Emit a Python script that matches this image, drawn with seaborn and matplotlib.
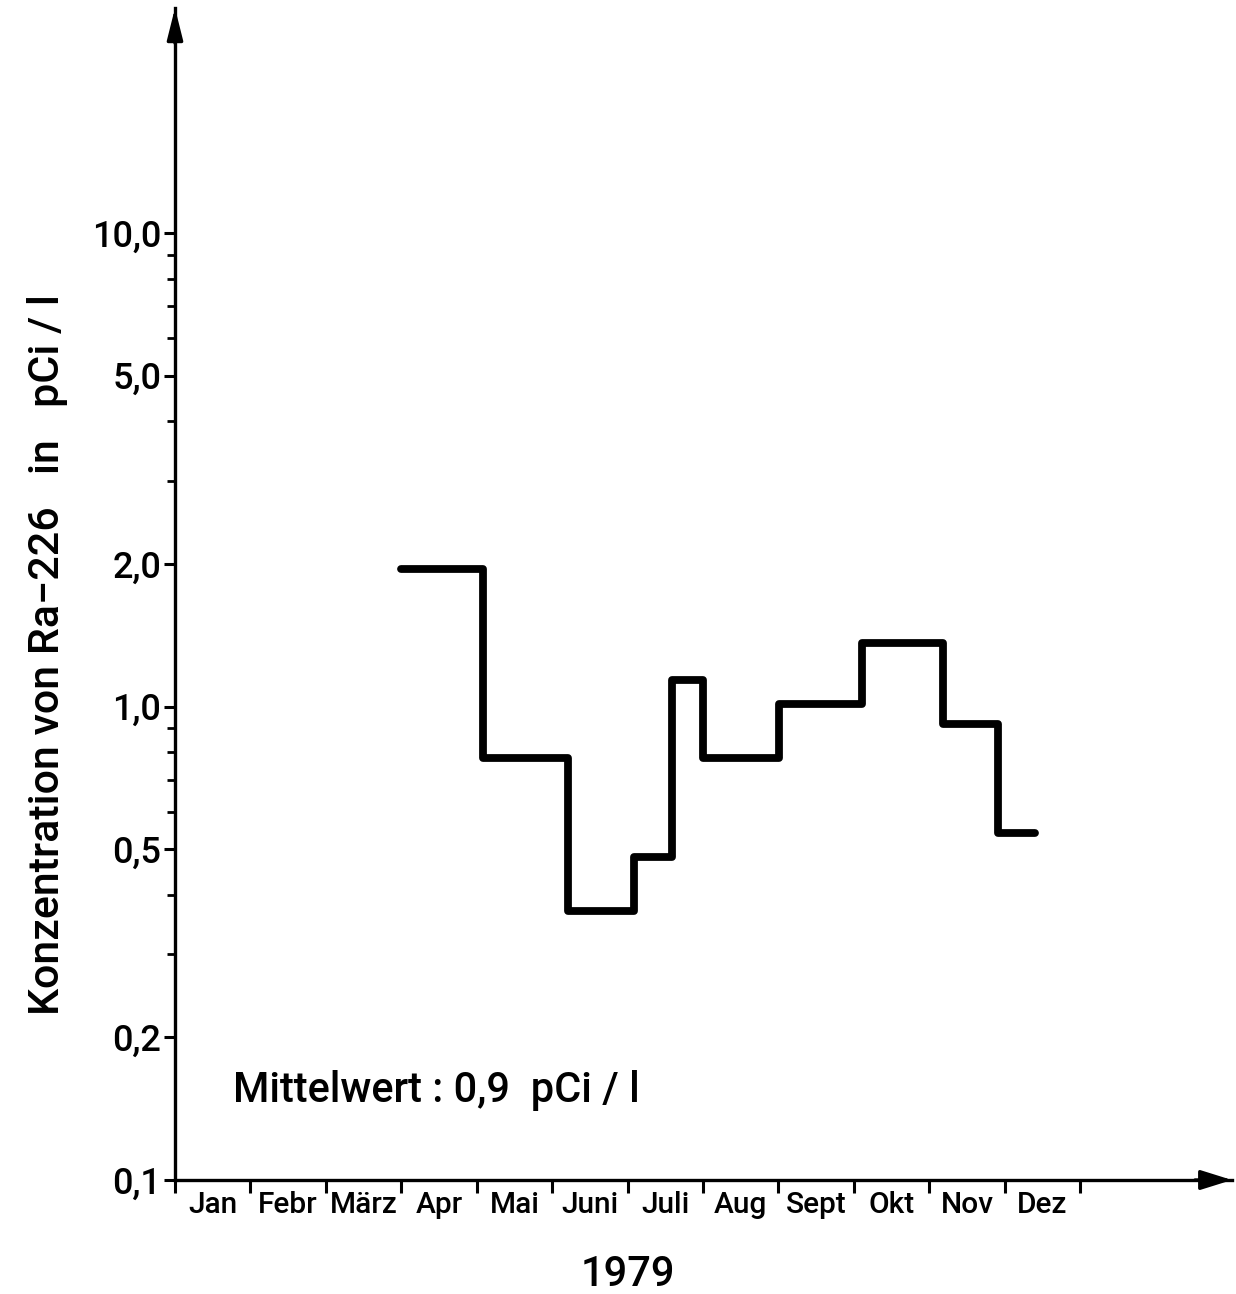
import matplotlib
matplotlib.use("Agg")
import matplotlib.pyplot as plt
import matplotlib.ticker as mticker
import seaborn as sns
import pandas as pd

# ---- data ----
months = ["Jan", "Febr", "März", "Apr", "Mai", "Juni", "Juli", "Aug", "Sept", "Okt", "Nov", "Dez"]
# step start positions in month units (0 = start of January)
step_start = [3.0, 4.08, 5.21, 6.09, 6.59, 7.0, 8.01, 9.11, 10.18, 10.91]
step_end = 11.40
# concentration of Ra-226 in pCi/l for each step
conc = [1.95, 0.78, 0.37, 0.48, 1.14, 0.78, 1.01, 1.36, 0.92, 0.54]
ytick_vals = [0.1, 0.2, 0.5, 1.0, 2.0, 5.0, 10.0]
ytick_labels = ["0,1", "0,2", "0,5", "1,0", "2,0", "5,0", "10,0"]
yminor_vals = [0.3, 0.4, 0.6, 0.7, 0.8, 0.9, 3.0, 4.0, 6.0, 7.0, 8.0, 9.0]

df = pd.DataFrame({"x": step_start + [step_end], "y": conc + [conc[-1]]})

sns.set_theme(style="white")
plt.rcParams["font.family"] = ["Roboto", "DejaVu Sans"]
plt.rcParams["text.color"] = "black"
plt.rcParams["xtick.color"] = "black"
plt.rcParams["ytick.color"] = "black"

W, H = 1236, 1294
fig = plt.figure(figsize=(W / 100, H / 100), dpi=100)
x0, x1 = 175, 1232
ytop, ybot = 8, 1180
ax = fig.add_axes([x0 / W, 1 - ybot / H, (x1 - x0) / W, (ybot - ytop) / H])

sns.lineplot(data=df, x="x", y="y", drawstyle="steps-post", color="black",
             linewidth=5.6, ax=ax, solid_joinstyle="round", solid_capstyle="round")

month_px = 75.42
ax.set_xlim(0, (x1 - x0) / month_px)
ax.set_yscale("log")
decade_px = 473.5
ax.set_ylim(0.1, 0.1 * 10 ** ((ybot - ytop) / decade_px))

ax.set_yticks(ytick_vals)
ax.set_yticklabels(ytick_labels)
ax.yaxis.set_minor_locator(mticker.FixedLocator(yminor_vals))
ax.yaxis.set_minor_formatter(mticker.NullFormatter())

ax.set_xticks(range(0, 13))
ax.set_xticklabels([""] * 13)
ax.set_xticks([i + 0.5 for i in range(12)], minor=True)
ax.set_xticklabels(months, minor=True)

ax.tick_params(axis="y", which="major", direction="out", length=8, width=2.2,
               color="black", labelcolor="black", labelsize=26, pad=2, left=True)
ax.tick_params(axis="y", which="minor", direction="out", length=6, width=2.0,
               color="black", left=True)
ax.tick_params(axis="x", which="major", direction="out", length=9, width=2.2,
               color="black", bottom=True)
ax.tick_params(axis="x", which="minor", length=0, labelsize=21.5, pad=8,
               labelcolor="black", bottom=False)
for lab in ax.get_xticklabels(minor=True):
    lab.set_fontweight("medium")
for lab in ax.get_yticklabels():
    lab.set_fontweight("medium")

for s in ["top", "right"]:
    ax.spines[s].set_visible(False)
for s in ["left", "bottom"]:
    ax.spines[s].set_linewidth(2.4)
    ax.spines[s].set_color("black")
ax.set_xlabel("")
ax.set_ylabel("")
ax.grid(False)

# arrow heads
ax.annotate("", xy=(1, 0), xytext=(0.965, 0), xycoords="axes fraction",
            arrowprops=dict(arrowstyle="-|>,head_length=1.6,head_width=0.5",
                            color="black", lw=2.4, shrinkA=0, shrinkB=0),
            annotation_clip=False)
ax.annotate("", xy=(0, 1), xytext=(0, 0.97), xycoords="axes fraction",
            arrowprops=dict(arrowstyle="-|>,head_length=1.6,head_width=0.4",
                            color="black", lw=2.4, shrinkA=0, shrinkB=0),
            annotation_clip=False)

fig.text(233 / W, 1 - 1102 / H, "Mittelwert : 0,9  pCi / l", fontsize=30,
         fontweight="medium", ha="left", va="baseline", color="black")
fig.text(628 / W, 1 - 1275 / H, "1979", fontsize=30, fontweight="medium",
         ha="center", va="center", color="black")
fig.text(48 / W, 1 - 655 / H, "Konzentration von Ra\u2212226   in   pCi / l",
         fontsize=31, fontweight="medium", rotation=90, ha="center", va="center",
         color="black")

fig.savefig("out.png", dpi=100, facecolor="white")
